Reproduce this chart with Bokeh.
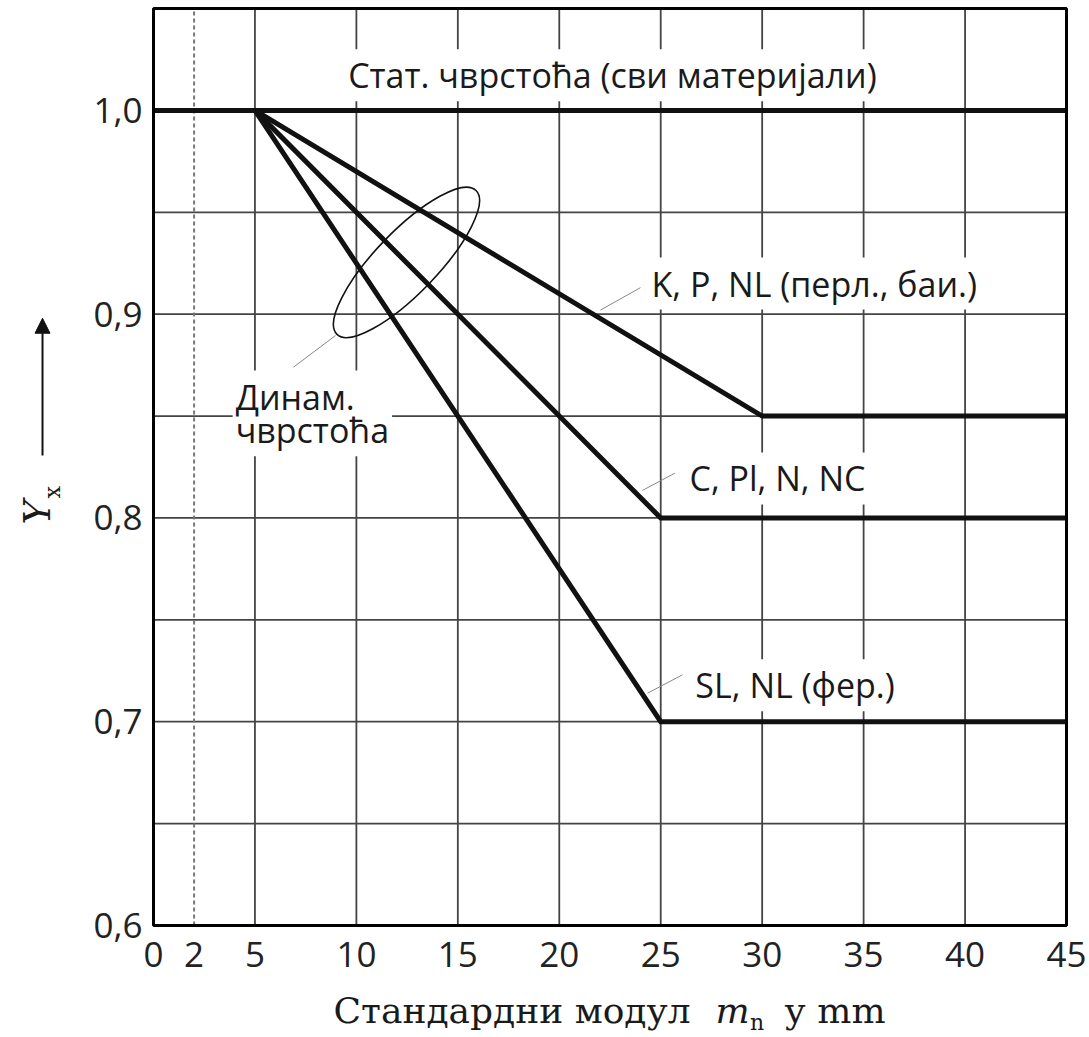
import math
from bokeh.plotting import figure
from bokeh.models import (FixedTicker, CustomJSTickFormatter, Label, Arrow,
                          NormalHead, Range1d, LinearAxis, BoxAnnotation)
from bokeh.core.properties import value
from bokeh.embed import file_html
from bokeh.resources import INLINE

# Module values (mm) and size factor Y_x for each material group
static_m = [0, 45]
static_y = [1.0, 1.0]
kpnl_m = [5, 30, 45]
kpnl_y = [1.0, 0.85, 0.85]
cpln_m = [5, 25, 45]
cpln_y = [1.0, 0.80, 0.80]
slnl_m = [5, 25, 45]
slnl_y = [1.0, 0.70, 0.70]

x_ticks = [0, 2, 5, 10, 15, 20, 25, 30, 35, 40, 45]
x_grid = [5, 10, 15, 20, 25, 30, 35, 40]
y_ticks = [0.6, 0.7, 0.8, 0.9, 1.0]
y_grid = [0.65, 0.7, 0.75, 0.8, 0.85, 0.9, 0.95]
ref_modul = 2

SANS = "Open Sans"
SERIF = "DejaVu Serif"
INK = "#1a1a1a"

# ---- canvas geometry: the diagram box (0..45, 0.6..1.05) sits inside a
# full-canvas frame so that the axis titles can be drawn around it ----
W, H = 1089, 1037
X0, X1, Y0, Y1 = 0.0, 45.0, 0.6, 1.05
BOX_L, BOX_R, BOX_T, BOX_B = 153, 1066, 8, 925
sx = (BOX_R - BOX_L) / (X1 - X0)
sy = (BOX_B - BOX_T) / (Y1 - Y0)
x_range = Range1d(X0 - BOX_L / sx, X1 + (W - BOX_R) / sx)
y_range = Range1d(Y0 - (H - BOX_B) / sy, Y1 + BOX_T / sy)

p = figure(width=W, height=H, output_backend="svg", toolbar_location=None,
           x_range=x_range, y_range=y_range, x_axis_type=None, y_axis_type=None,
           min_border=0)
p.outline_line_color = None
p.background_fill_color = "white"
p.border_fill_color = "white"

# axes pinned to the edges of the diagram box
xaxis = LinearAxis(ticker=FixedTicker(ticks=x_ticks), fixed_location=Y0)
yaxis = LinearAxis(ticker=FixedTicker(ticks=y_ticks), fixed_location=X0,
                   formatter=CustomJSTickFormatter(code="return tick.toFixed(1).replace('.', ',');"))
for ax in (xaxis, yaxis):
    ax.axis_line_color = None
    ax.major_tick_line_color = None
    ax.minor_tick_line_color = None
    ax.major_label_text_font = SANS
    ax.major_label_text_font_size = "35px"
    ax.major_label_text_color = "#222222"
xaxis.major_label_standoff = 10
yaxis.major_label_standoff = 5
p.add_layout(xaxis, "below")
p.add_layout(yaxis, "left")

# grid lines inside the diagram box only
GRID = dict(line_color="#444444", line_width=1.8)
p.segment(x0=x_grid, y0=[Y0] * len(x_grid), x1=x_grid, y1=[Y1] * len(x_grid), **GRID)
p.segment(x0=[X0] * len(y_grid), y0=y_grid, x1=[X1] * len(y_grid), y1=y_grid, **GRID)
p.segment(x0=[ref_modul], y0=[Y0], x1=[ref_modul], y1=[Y1], line_color="#777777",
          line_width=2, line_dash="4 3")

for xs, ys in ((static_m, static_y), (kpnl_m, kpnl_y), (cpln_m, cpln_y), (slnl_m, slnl_y)):
    p.line(xs, ys, line_color="#111111", line_width=5, line_join="miter")

# ellipse around the dynamic-strength curves
p.ellipse(x=[12.47], y=[0.9254], width=[200], height=[62], angle=[math.radians(46)],
          width_units="screen", height_units="screen",
          fill_color=None, line_color="#111111", line_width=1.6)

# leader lines from the notes to the curves
leaders = [([6.9, 8.97], [0.874, 0.8895]),
           ([22.03, 24.0], [0.902, 0.913]),
           ([24.1, 25.7], [0.8135, 0.822]),
           ([24.35, 26.07], [0.714, 0.723])]
for xs, ys in leaders:
    p.line(xs, ys, line_color="#888888", line_width=1)


def note(x, y, text, align="left", line_height=1.2):
    p.add_layout(Label(x=x, y=y, text=text, text_font=SANS, text_font_size="34px",
                       text_color=INK, text_align=align, text_baseline="middle",
                       text_line_height=line_height,
                       background_fill_color="white", padding=3))


note(22.62, 1.0172, "Стат. чврстоћа (сви материјали)", align="center")
note(24.4, 0.915, "K, P, NL (перл., баи.)")
note(26.27, 0.8194, "C, Pl, N, NC")
note(26.56, 0.7179, "SL, NL (фер.)")
note(3.9, 0.8513, "Динам.\nчврстоћа", line_height=0.73)

# frame of the diagram box, drawn over the grid
p.add_layout(BoxAnnotation(left=X0, right=X1, bottom=Y0, top=Y1, fill_alpha=0,
                           line_color="black", line_alpha=1.0, line_width=3))

# y title: Y_x with an arrow pointing up
p.text(x=[-5.7], y=[0.7968], text=["Y"], angle=[math.pi / 2],
       text_font=value(SERIF), text_font_style="italic", text_font_size="37px",
       text_color=INK, text_align="left", text_baseline="middle")
p.text(x=[-5.0], y=[0.8095], text=["x"], angle=[math.pi / 2],
       text_font=value(SERIF), text_font_size="22px",
       text_color=INK, text_align="left", text_baseline="middle")
p.add_layout(Arrow(end=NormalHead(size=15, fill_color="#111111", line_color="#111111"),
                   x_start=-5.47, y_start=0.8306, x_end=-5.47, y_end=0.898,
                   line_color="#111111", line_width=2))

# x title: Стандардни модул m_n у mm
p.text(x=[8.87], y=[0.5583], text=["Стандардни модул"], text_font=value(SERIF),
       text_font_size="36px", text_color=INK, text_align="left", text_baseline="middle")
p.text(x=[27.7], y=[0.5583], text=["m"], text_font=value(SERIF), text_font_style="italic",
       text_font_size="36px", text_color=INK, text_align="left", text_baseline="middle")
p.text(x=[29.4], y=[0.5525], text=["n"], text_font=value(SERIF),
       text_font_size="22px", text_color=INK, text_align="left", text_baseline="middle")
p.text(x=[36.08], y=[0.5583], text=["у mm"], text_font=value(SERIF),
       text_font_size="36px", text_color=INK, text_align="right", text_baseline="middle")

open("out.html", "w").write(file_html(p, INLINE))
